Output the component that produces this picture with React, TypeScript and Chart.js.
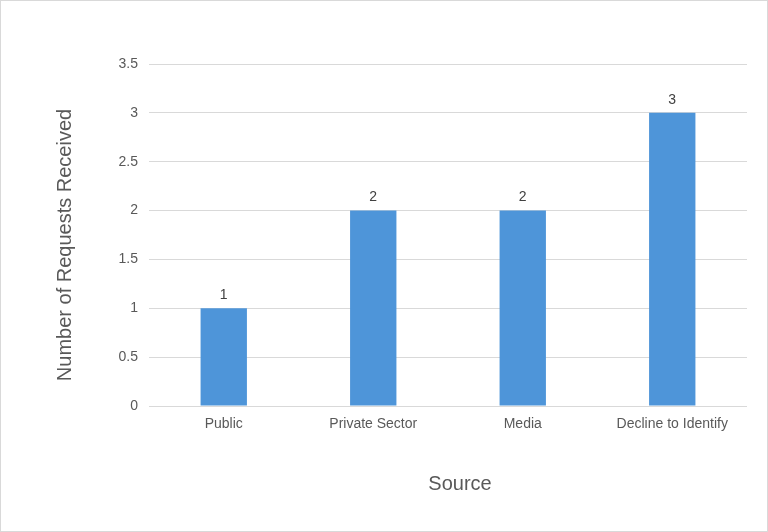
import React, { useEffect, useRef } from "react";
import { Chart, registerables } from "chart.js";

Chart.register(...registerables);

const categories = ["Public", "Private Sector", "Media", "Decline to Identify"];
const requests = [1, 2, 2, 3];
const yTitle = "Number of Requests Received";
const xTitle = "Source";

const FONT = "'Liberation Sans', Arial, Helvetica, sans-serif";

const valueLabels = {
  id: "valueLabels",
  afterDatasetsDraw(chart: any) {
    const ctx = chart.ctx;
    const meta = chart.getDatasetMeta(0);
    ctx.save();
    ctx.font = `14px ${FONT}`;
    ctx.fillStyle = "#404040";
    ctx.textAlign = "center";
    ctx.textBaseline = "bottom";
    meta.data.forEach((bar: any, i: number) => {
      ctx.fillText(String(requests[i]), bar.x, bar.y - 6);
    });
    ctx.restore();
  },
};

const axisTitles = {
  id: "axisTitles",
  afterDraw(chart: any) {
    const ctx = chart.ctx;
    const a = chart.chartArea;
    ctx.save();
    ctx.font = `20px ${FONT}`;
    ctx.fillStyle = "#595959";
    ctx.textAlign = "center";
    ctx.textBaseline = "middle";
    ctx.fillText(xTitle, (a.left + a.right) / 2 + 12, a.bottom + 78);
    ctx.translate(64, (a.top + a.bottom) / 2 + 10);
    ctx.rotate(-Math.PI / 2);
    ctx.fillText(yTitle, 0, 0);
    ctx.restore();
  },
};

export default function App() {
  const ref = useRef<HTMLCanvasElement>(null);
  useEffect(() => {
    document.body.style.margin = "0";
    const chart = new Chart(ref.current!, {
      type: "bar",
      data: {
        labels: categories,
        datasets: [
          {
            data: requests,
            backgroundColor: "#4E95D9",
            borderWidth: 0,
            barPercentage: 1,
            categoryPercentage: 0.31,
          },
        ],
      },
      plugins: [valueLabels, axisTitles],
      options: {
        animation: false,
        responsive: false,
        maintainAspectRatio: false,
        layout: { padding: { top: 63, right: 20, left: 0, bottom: 0 } },
        plugins: { legend: { display: false }, tooltip: { enabled: false } },
        scales: {
          x: {
            grid: { display: false, drawTicks: false },
            border: { display: false },
            ticks: { color: "#595959", font: { size: 14, family: FONT }, padding: 10, maxRotation: 0 },
            afterFit: (s: any) => {
              s.height = 125;
            },
          },
          y: {
            min: 0,
            max: 3.5,
            ticks: {
              stepSize: 0.5,
              color: "#595959",
              font: { size: 14, family: FONT },
              padding: 11,
              callback: (v: any) => String(Number(v)),
            },
            grid: { color: "#d9d9d9", drawTicks: false },
            border: { display: false },
            afterFit: (s: any) => {
              s.width = 148;
            },
          },
        },
      },
    });
    return () => chart.destroy();
  }, []);
  return (
    <div
      style={{
        position: "fixed",
        left: 0,
        top: 0,
        width: 768,
        height: 532,
        boxSizing: "border-box",
        border: "1px solid #d9d9d9",
        background: "#fff",
      }}
    >
      <canvas ref={ref} width={766} height={530} style={{ display: "block" }} />
    </div>
  );
}
